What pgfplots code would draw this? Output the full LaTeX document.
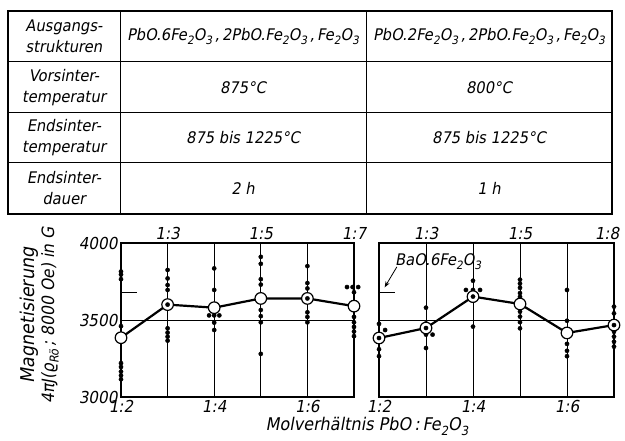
\documentclass[border=0pt]{standalone}
\usepackage{fontspec}
\setmainfont{DejaVu Sans}[FakeSlant=0.18,FakeStretch=0.92]
\usepackage{graphicx}
\usepackage{pgfplots}
\pgfplotsset{compat=1.18}
\usetikzlibrary{arrows.meta}
\newcommand\sub[1]{\raisebox{-0.45ex}{\scalebox{0.72}{#1}}}
\newcommand\FeO{Fe\sub{2}O\sub{3}}
\newcommand\tf{\fontsize{16}{21}\selectfont}

\pgfplotsset{
 base/.style={
  scale only axis, height=154pt, ymin=3000, ymax=4000, xmin=0, xmax=5,
  major tick length=0pt,
  tick label style={font=\fontsize{16.5}{16.5}\selectfont},
  /pgf/number format/assume math mode=true,
  /pgf/number format/1000 sep={},
  axis line style={line width=1.4pt},
  clip=false,
 },
 mystyle/.style={base,
  ytick={3000,3500,4000}, xtick={0,...,5},
  xmajorgrids, ymajorgrids,
  grid style={line width=0.8pt, black},
  xticklabels={1:2,,1:4,,1:6,},
 },
 toplab/.style={base, axis x line*=top, axis y line=none, xtick={1,3,5}, ytick=\empty},
 dots/.style={only marks, mark=*, mark size=2.1pt, black},
 mean/.style={black, line width=2.2pt, mark=*, mark size=5.8pt, mark options={fill=white, draw=black, line width=1.2pt}},
 ctr/.style={only marks, mark=*, mark size=2.1pt, black},
}

\begin{document}
\begin{tikzpicture}
\useasboundingbox (0pt,0pt) rectangle (625pt,-441pt);

% table
\draw[line width=1.2pt] (8pt,-11pt) rectangle (612pt,-214pt);
\draw[line width=1pt] (8pt,-62pt) -- (612pt,-62pt);
\draw[line width=1pt] (8pt,-112.7pt) -- (612pt,-112.7pt);
\draw[line width=1pt] (8pt,-162.7pt) -- (612pt,-162.7pt);
\draw[line width=1pt] (120pt,-11pt) -- (120pt,-214pt);
\draw[line width=1pt] (366pt,-11pt) -- (366pt,-214pt);

\node[align=center,font=\tf] at (64pt,-36.5pt) {Ausgangs-\\strukturen};
\node[align=center,font=\tf] at (64pt,-87.4pt) {Vorsinter-\\temperatur};
\node[align=center,font=\tf] at (64pt,-137.7pt) {Endsinter-\\temperatur};
\node[align=center,font=\tf] at (64pt,-188.4pt) {Endsinter-\\dauer};

\node[font=\tf] at (243pt,-36.5pt) {PbO.6\FeO\,,\,2PbO.\FeO\,,\,\FeO};
\node[font=\tf] at (489pt,-36.5pt) {PbO.2\FeO\,,\,2PbO.\FeO\,,\,\FeO};
\node[font=\tf] at (243pt,-87.4pt) {875°C};
\node[font=\tf] at (489pt,-87.4pt) {800°C};
\node[font=\tf] at (243pt,-137.7pt) {875 bis 1225°C};
\node[font=\tf] at (489pt,-137.7pt) {875 bis 1225°C};
\node[font=\tf] at (243pt,-188.4pt) {2 h};
\node[font=\tf] at (489pt,-188.4pt) {1 h};

% left plot
\begin{axis}[mystyle, width=233pt, at={(121pt,-397pt)}, anchor=south west,
  ylabel={{\fontsize{19}{20}\selectfont Magnetisierung}\\4πJ(ϱ\sub{Rö}\,;\ 8000 Oe) in G},
  ylabel style={align=center, font=\fontsize{17}{20}\selectfont, at={(axis description cs:-0.35,0.53)}, anchor=center}]
\addplot[black, line width=0.9pt] coordinates {(0,3680) (0.35,3680)};
\addplot[dots] coordinates {
 (0,3815) (0,3795) (0,3765) (0,3460) (0,3220) (0,3195) (0,3165) (0,3140) (0,3115)
 (1,3825) (1,3770) (1,3727) (1,3695) (1,3446) (1,3418) (1,3392) (1,3366)
 (2,3835) (2,3695) (1.89,3530) (2,3530) (2.11,3530) (2,3483) (2,3435)
 (3,3910) (3,3865) (3,3765) (3,3730) (3,3565) (3,3525) (3,3485) (3,3280)
 (4,3850) (4,3740) (4,3705) (4,3550) (4,3520) (4,3485)
 (4.85,3714) (4.97,3714) (5.09,3714) (5,3680) (5,3520) (5,3485) (5,3455) (5,3425) (5,3395)
};
\addplot[mean] coordinates {(0,3385) (1,3600) (2,3580) (3,3640) (4,3640) (5,3590)};
\addplot[ctr] coordinates {(1,3600) (4,3640)};
\end{axis}
\begin{axis}[toplab, width=233pt, at={(121pt,-397pt)}, anchor=south west,
  xticklabels={1:3,1:5,1:7}]
\end{axis}

% right plot
\begin{axis}[mystyle, width=235pt, at={(379pt,-397pt)}, anchor=south west, yticklabels={}]
\addplot[black, line width=0.9pt] coordinates {(0,3680) (0.34,3680)};
\addplot[dots] coordinates {
 (0,3475) (0.13,3435) (0,3310) (0,3265)
 (1,3580) (1,3478) (1,3405) (1.14,3405) (1,3318)
 (2,3755) (1.85,3695) (2,3695) (2.15,3695) (2,3625) (2,3457)
 (3,3762) (3,3736) (3,3709) (3,3675) (3,3650) (3,3554) (3,3522) (3,3486) (3,3446)
 (4,3695) (4,3495) (4,3345) (4,3300) (4,3265)
 (5,3587) (5,3543) (5,3424) (5,3392) (5,3359) (5,3327)
};
\addplot[mean] coordinates {(0,3383) (1,3448) (2,3652) (3,3604) (4,3416) (5,3467)};
\addplot[ctr] coordinates {(0,3383) (1,3448) (2,3652) (5,3467)};
\draw[-{Stealth[length=6pt]}, line width=0.8pt] (axis cs:0.38,3845) -- (axis cs:0.12,3712);
\node[anchor=base, font=\fontsize{16}{16}\selectfont] at (axis cs:1.26,3855) {BaO.6\FeO};
\end{axis}
\begin{axis}[toplab, width=235pt, at={(379pt,-397pt)}, anchor=south west,
  xticklabels={1:3,1:5,\hspace*{-14pt}1:8}]
\end{axis}

\node[anchor=base, font=\fontsize{17.5}{17.5}\selectfont] at (367pt,-431pt) {Molverhältnis PbO\,:\,\FeO};
\end{tikzpicture}
\end{document}
